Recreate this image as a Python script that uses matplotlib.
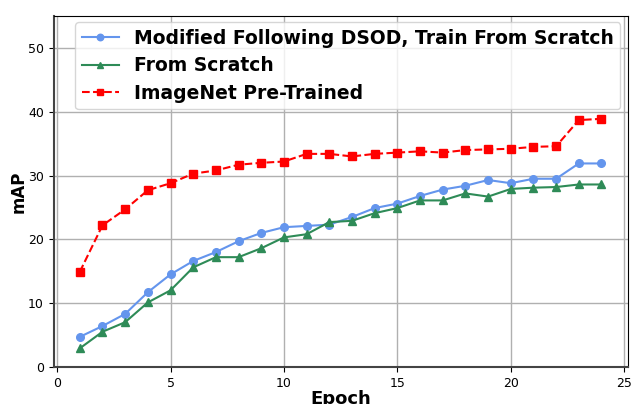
import matplotlib
matplotlib.use("Agg")
import matplotlib.pyplot as plt

epochs = list(range(1, 25))
dsod = [4.7, 6.4, 8.3, 11.7, 14.5, 16.6, 18.0, 19.7, 21.0, 21.9, 22.1, 22.3,
        23.5, 24.9, 25.6, 26.8, 27.8, 28.4, 29.3, 28.8, 29.5, 29.5, 31.9, 31.9]
scratch = [2.9, 5.5, 7.0, 10.1, 12.0, 15.6, 17.2, 17.2, 18.6, 20.3, 20.8, 22.7,
           22.9, 24.1, 24.9, 26.1, 26.1, 27.2, 26.7, 27.9, 28.1, 28.2, 28.6, 28.6]
imagenet = [14.9, 22.2, 24.7, 27.7, 28.8, 30.3, 30.8, 31.7, 32.0, 32.2, 33.4, 33.4,
            33.0, 33.4, 33.6, 33.8, 33.6, 34.0, 34.1, 34.2, 34.5, 34.6, 38.7, 38.9]
labels = ["Modified Following DSOD, Train From Scratch", "From Scratch", "ImageNet Pre-Trained"]

fig = plt.figure(figsize=(6.32, 4.04), dpi=100)
ax = fig.add_axes([0.085, 0.092, 0.908, 0.868])
ax.plot(epochs, dsod, '-o', color='cornflowerblue', markersize=5.5, linewidth=1.5, label=labels[0])
ax.plot(epochs, scratch, '-^', color='seagreen', markersize=5.5, linewidth=1.5, label=labels[1])
ax.plot(epochs, imagenet, '--s', color='red', markersize=5.5, linewidth=1.5, label=labels[2])
ax.set_ylim(0, 55)
ax.set_yticks([0, 10, 20, 30, 40, 50])
ax.set_xticks([0, 5, 10, 15, 20, 25])
ax.grid(True, color='#b0b0b0', linewidth=1.0)
ax.tick_params(labelsize=9)
for s in ['left', 'bottom']:
    ax.spines[s].set_linewidth(1.5)
    ax.spines[s].set_color('#444444')
ax.set_xlabel("Epoch", fontsize=13, fontweight='bold', labelpad=0.5)
ax.set_ylabel("mAP", fontsize=12, fontweight='bold', labelpad=0)
ax.legend(loc='upper left', prop={'size': 13.5, 'weight': 'bold'}, bbox_to_anchor=(0.037, 0.982),
          borderaxespad=0, handlelength=2.0, borderpad=0.35, labelspacing=0.45, markerscale=0.85)
fig.savefig("out.png", dpi=100)
